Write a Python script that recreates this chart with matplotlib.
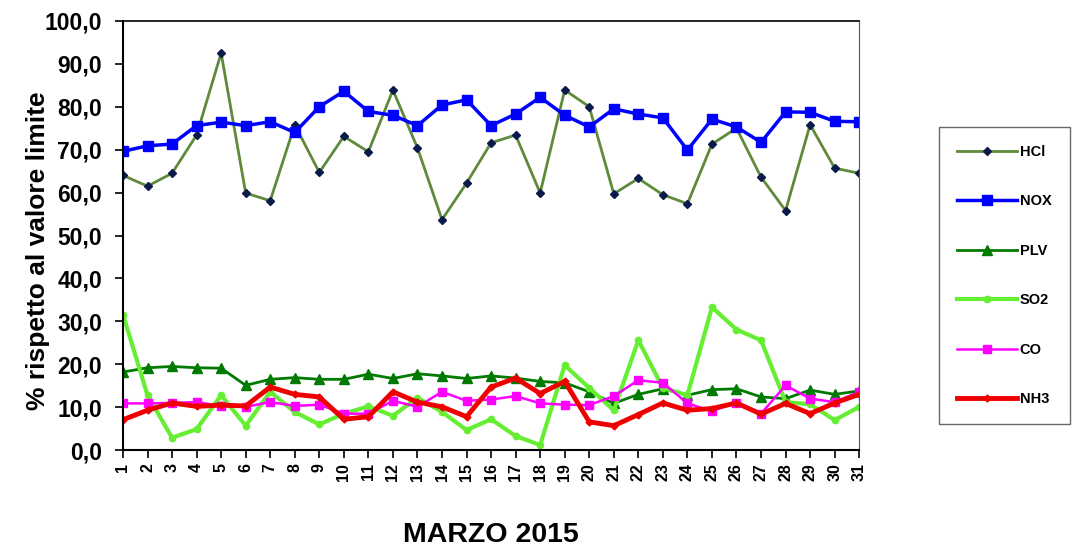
import matplotlib
matplotlib.use("Agg")
import matplotlib.pyplot as plt

plt.rcParams['font.family'] = ['Liberation Sans', 'DejaVu Sans']

days = list(range(1, 32))

hcl = [64.0, 61.5, 64.5, 73.4, 92.5, 59.9, 58.1, 75.8, 64.7, 73.1,
       69.5, 83.9, 70.4, 53.7, 62.2, 71.6, 73.4, 59.9, 83.9, 80.0,
       59.7, 63.3, 59.5, 57.4, 71.3, 75.0, 63.6, 55.8, 75.8, 65.7, 64.5]
nox = [69.6, 70.9, 71.3, 75.6, 76.4, 75.6, 76.5, 74.0, 80.0, 83.6,
       78.9, 78.0, 75.6, 80.4, 81.6, 75.6, 78.3, 82.2, 78.0, 75.3,
       79.5, 78.3, 77.4, 69.9, 77.1, 75.3, 71.7, 78.8, 78.7, 76.6, 76.5]
plv = [18.2, 19.2, 19.5, 19.2, 19.1, 15.1, 16.5, 16.9, 16.5, 16.5,
       17.7, 16.7, 17.8, 17.3, 16.7, 17.3, 16.8, 16.0, 15.7, 13.6,
       10.9, 13.0, 14.3, 12.8, 14.1, 14.3, 12.4, 12.0, 14.0, 13.0, 13.8]
so2 = [31.6, 12.8, 2.9, 4.9, 12.8, 5.7, 13.6, 8.9, 6.0, 8.5,
       10.2, 8.0, 12.2, 8.9, 4.7, 7.2, 3.3, 1.2, 19.8, 14.5,
       9.3, 25.6, 14.5, 12.8, 33.3, 28.1, 25.6, 11.2, 10.7, 7.0, 10.1]
co = [10.9, 10.9, 11.0, 11.2, 10.3, 10.1, 11.2, 10.3, 10.6, 8.5,
      8.5, 11.5, 10.1, 13.6, 11.5, 11.8, 12.6, 10.9, 10.6, 10.5,
      12.6, 16.3, 15.7, 10.9, 9.1, 11.1, 8.5, 15.1, 12.0, 11.2, 13.6]
nh3 = [7.1, 9.3, 11.0, 10.2, 10.5, 10.3, 14.7, 13.0, 12.4, 7.2,
       7.8, 13.6, 11.2, 10.1, 7.8, 14.7, 16.8, 13.2, 16.0, 6.6,
       5.7, 8.3, 11.0, 9.3, 9.7, 11.0, 8.4, 10.9, 8.5, 11.0, 13.0]

fig = plt.figure(figsize=(10.74, 5.49), dpi=100)
ax = fig.add_axes([0.1145, 0.180, 0.6855, 0.782])

ax.plot(days, hcl, color='#5E8A3A', lw=2, marker='D', ms=4.5,
        mfc='#0A1A4A', mec='#0A1A4A', label='HCl')
ax.plot(days, nox, color='#0000FF', lw=2.5, marker='s', ms=6.5, label='NOX')
ax.plot(days, plv, color='#007A00', lw=2, marker='^', ms=6.5, label='PLV')
ax.plot(days, so2, color='#66EE33', lw=3, marker='o', ms=4.5, label='SO2')
ax.plot(days, co, color='#FF00FF', lw=1.8, marker='s', ms=6, label='CO')
ax.plot(days, nh3, color='#EE0000', lw=3.5, marker='D', ms=3.5, label='NH3')

ax.set_xlim(1, 31)
ax.set_ylim(0, 100)
ax.set_xticks(days)
ax.set_xticklabels([str(d) for d in days], rotation=90, fontsize=11.5, fontweight='bold')
ax.set_yticks(range(0, 101, 10))
ax.set_yticklabels([f'{v},0' for v in range(0, 101, 10)], fontsize=16.5, fontweight='bold')
ax.tick_params(axis='y', direction='out', length=6, width=1.2, pad=9)
ax.tick_params(axis='x', direction='out', length=5.5, width=1.2, pad=4)
ax.set_ylabel('% rispetto al valore limite', fontsize=19, fontweight='bold')
ax.yaxis.set_label_coords(-0.099, 0.465)
ax.set_xlabel('MARZO 2015', fontsize=20.5, fontweight='bold', labelpad=29)

for s in ['left', 'bottom']:
    ax.spines[s].set_linewidth(1.5)
ax.spines['top'].set_linewidth(1.2)
ax.spines['right'].set_color('#555555')

leg = fig.legend(loc='upper left', bbox_to_anchor=(0.874, 0.769), fontsize=10.5,
                 frameon=True, fancybox=False, edgecolor='#444444',
                 handlelength=4.1, labelspacing=2.43, borderpad=1.25,
                 handletextpad=0.2, borderaxespad=0)
leg.get_frame().set_linewidth(1.0)
for t in leg.get_texts():
    t.set_fontweight('bold')

fig.savefig('out.png', dpi=100)
